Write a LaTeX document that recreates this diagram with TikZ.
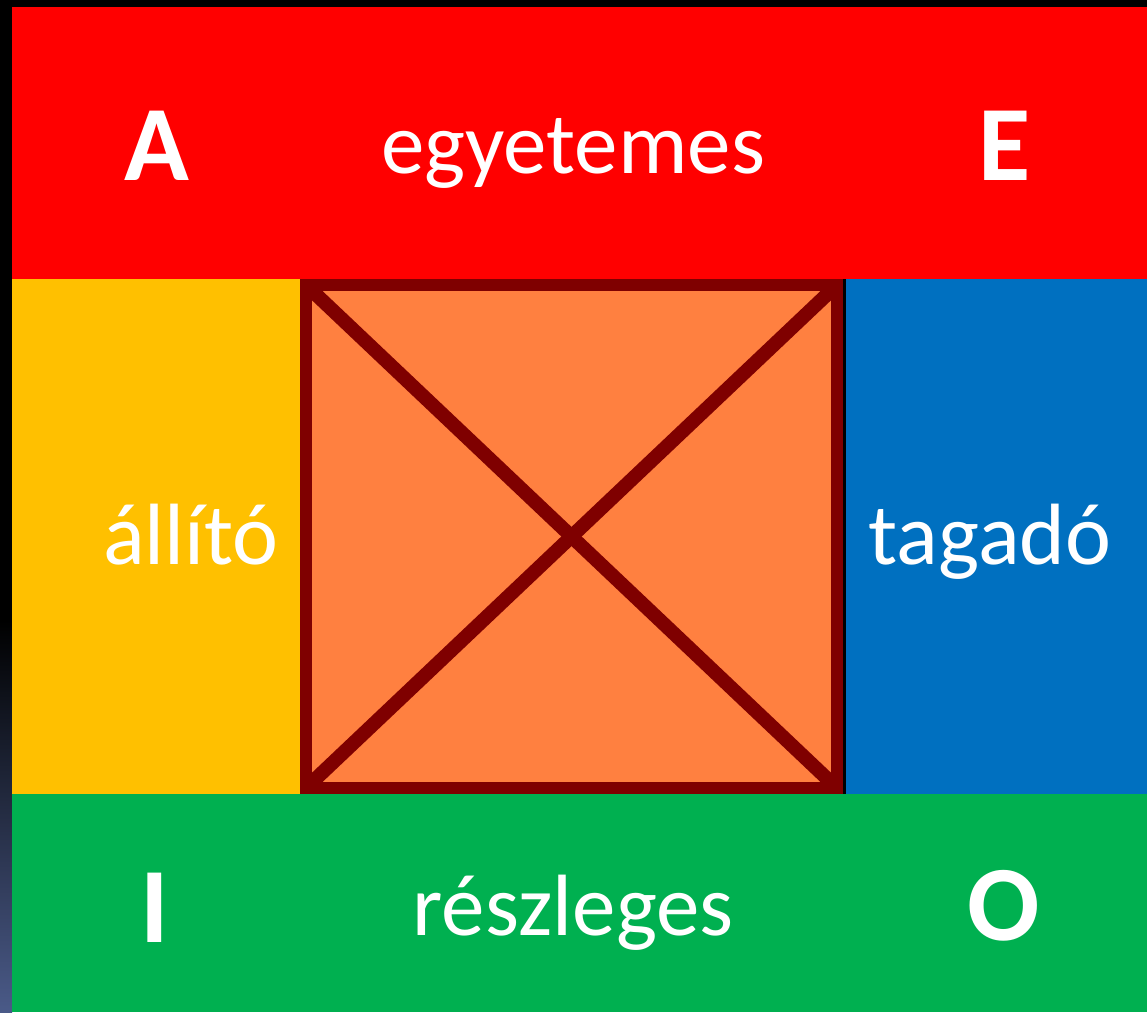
\documentclass[tikz,border=0pt]{standalone}
\usepackage{fontspec}
\setmainfont{Carlito}
\usetikzlibrary{positioning}
\definecolor{piros}{HTML}{FF0000}
\definecolor{sarga}{HTML}{FFC000}
\definecolor{kek}{HTML}{0070C0}
\definecolor{zold}{HTML}{00B050}
\definecolor{narancs}{HTML}{FF8040}
\definecolor{bordo}{HTML}{7F0000}
\definecolor{csik}{HTML}{4A5A88}
\begin{document}
\begin{tikzpicture}[x=1pt,y=-1pt,
  szo/.style={text=white, inner sep=0pt, anchor=base, font=\fontsize{87}{90}\selectfont},
  betu/.style={text=white, inner sep=0pt, anchor=base, font=\bfseries\fontsize{107}{110}\selectfont},
  keret/.style={draw=bordo, line width=12pt}]
\useasboundingbox (0,0) rectangle (1147,1012);
% hattér
\fill[black] (0,0) rectangle (1147,1012);
\shade[top color=black, bottom color=csik] (0,620) rectangle (12,1012);
% sávok
\fill[piros] (12,7) rectangle (1147,279);
\fill[sarga] (12,279) rectangle (300,794);
\fill[kek] (846,279) rectangle (1147,794);
\fill[zold] (12,794) rectangle (1147,1012);
% négyzet
\coordinate (bf) at (306,285);
\coordinate (jf) at (837,285);
\coordinate (ba) at (306,788);
\coordinate (ja) at (837,788);
\fill[narancs] (300,279) rectangle (843,794);
\draw[keret, line width=14pt] (bf) -- (ja);
\draw[keret, line width=14pt] (ba) -- (jf);
\draw[keret] (bf) rectangle (ja);
\draw[black, line width=3pt] (844.5,279) -- (844.5,794);
% feliratok
\node[betu] (A) at (157,180) {A};
\node[szo] (egyetemes) at (573,173) {egyetemes};
\node[betu] (E) at (1005,180) {E};
\node[szo] (allito) at (191,564) {állító};
\node[szo] (tagado) at (990,564) {tagadó};
\node[betu] (I) at (155,942) {I};
\node[szo] (reszleges) at (573,935) {részleges};
\node[betu] (O) at (1004,940) {O};
\end{tikzpicture}
\end{document}
